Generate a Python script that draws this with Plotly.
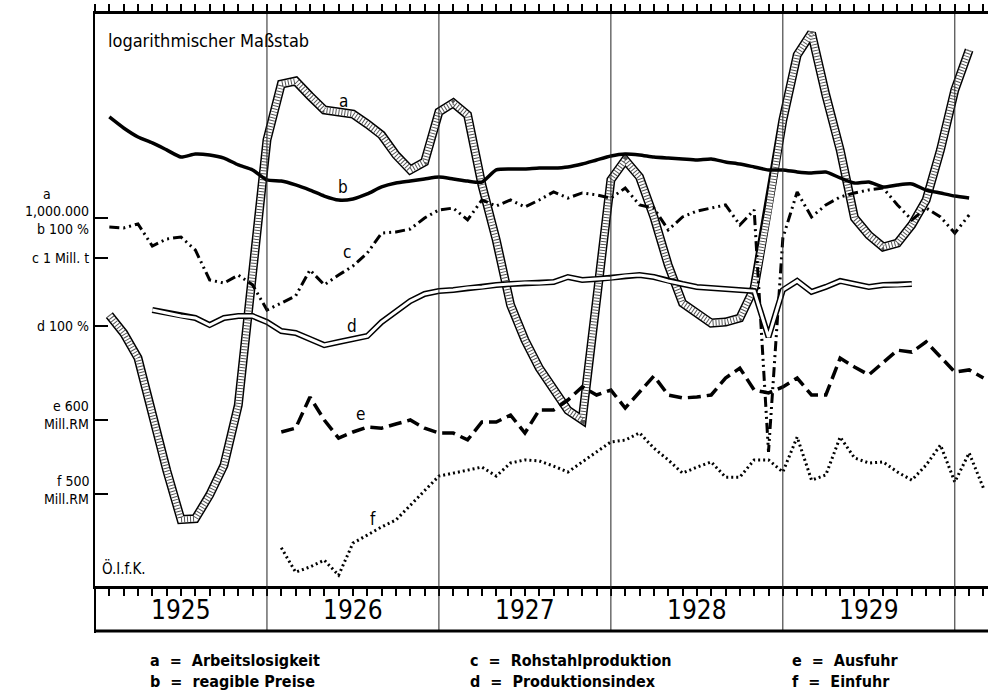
import math
import plotly.graph_objects as go

# ---------------- data (monthly, month 1 = Jan 1925) ----------------
YEARS = ["1925", "1926", "1927", "1928", "1929"]

A_START = 1   # a = Arbeitslosigkeit (thousand persons)
A_VALUES = [615, 562, 496, 373, 283, 221, 222, 250, 290, 392,
            771, 1478, 1956, 1985, 1842, 1717, 1700, 1683, 1601, 1515,
            1371, 1272, 1324, 1700, 1778, 1675, 1180, 896, 647, 543,
            472, 423, 382, 364, 663, 1210, 1337, 1228, 1005, 790,
            653, 622, 591, 594, 606, 704, 1041, 1633, 2261, 2525,
            1851, 1406, 1000, 918, 865, 882, 966, 1094, 1406, 1898, 2319]

B_START = 1   # b = reagible Preise (%)
B_VALUES = [165.8, 156.9, 150.0, 145.6, 140.6, 135.7, 137.8, 137.1, 135.0, 130.4,
            127.2, 121.0, 120.3, 118.0, 115.0, 111.6, 109.4, 110.0, 112.8, 116.8,
            119.1, 120.3, 121.6, 122.8, 121.6, 120.3, 119.7, 127.2, 127.8, 127.8,
            128.4, 128.4, 129.1, 131.0, 133.7, 136.4, 137.8, 137.1, 135.7, 135.0,
            134.4, 133.7, 134.4, 132.4, 131.0, 129.1, 127.2, 127.2, 125.9, 125.3,
            125.9, 122.2, 119.1, 119.7, 116.8, 118.0, 118.6, 115.0, 113.3, 111.6, 110.5]

C_START = 1   # c = Rohstahlproduktion (thousand t)
C_VALUES = [1168, 1162, 1186, 1062, 1100, 1111, 1041, 896, 882, 918,
            874, 771, 798, 827, 942, 874, 918, 961, 1025, 1133,
            1139, 1156, 1222, 1272, 1284, 1210, 1337, 1297, 1337, 1291,
            1337, 1392, 1350, 1385, 1371, 1350, 1419, 1304, 1284, 1151,
            1228, 1265, 1284, 1304, 1180, 1272, 379, 1105, 1392, 1228,
            1304, 1357, 1385, 1406, 1419, 1304, 1210, 1284, 1228, 1133, 1240]

D_START = 4   # d = Produktionsindex (%)
D_VALUES = [108.3, 106.7, 105.1, 104.1, 100.5, 104.1, 105.1, 105.1, 102.0, 97.5,
            96.6, 93.7, 90.9, 92.3, 93.7, 95.1, 102.0, 107.3, 113.3, 117.4,
            119.1, 119.7, 121.0, 121.6, 122.8, 123.4, 124.0, 124.0, 124.6, 127.8,
            125.9, 126.5, 127.2, 128.4, 129.1, 127.8, 125.3, 123.4, 121.6, 121.0,
            120.3, 119.7, 119.1, 94.6, 119.7, 125.3, 118.6, 121.6, 125.3, 123.4,
            121.6, 122.8, 122.8, 123.4]

E_START = 13  # e = Ausfuhr (Mill. RM)
E_VALUES = [565, 576, 673, 600, 548, 565, 579, 576, 588, 600,
            576, 562, 562, 543, 594, 594, 615, 562, 631, 631,
            663, 708, 680, 697, 637, 690, 748, 680, 670, 673,
            680, 740, 778, 697, 687, 708, 740, 680, 680, 818,
            782, 752, 798, 851, 843, 887, 823, 763, 771, 740]

F_START = 13  # f = Einfuhr (Mill. RM)
F_VALUES = [382, 338, 347, 359, 333, 391, 407, 424, 439, 473,
            508, 547, 555, 564, 572, 547, 584, 593, 590, 575,
            558, 587, 617, 649, 655, 679, 629, 593, 555, 572,
            587, 544, 544, 593, 593, 558, 665, 536, 550, 665,
            599, 584, 587, 558, 536, 578, 639, 531, 614, 515]

# reference ticks of each series' own logarithmic scale
REF_A, REF_B, REF_C, REF_D, REF_E, REF_F = 1000, 100, 1000, 100, 600, 500

LEGEND_ROWS = [
    ["a  =  Arbeitslosigkeit", "c  =  Rohstahlproduktion", "e  =  Ausfuhr"],
    ["b  =  reagible Preise", "d  =  Produktionsindex", "f  =  Einfuhr"],
]

# ---------------- layout geometry ----------------
W, H = 988, 695
L, T, BOT = 95, 14, 586          # plot area: x from L to W, y from T to BOT (pixels)
PW, PH = W - L, BOT - T
MONTH_PX = 14.33
PX_PER_DECADE = 460.0
REF_PIX = {"a": 218, "b": 218, "c": 258, "d": 326, "e": 420, "f": 494}

FONT = "Liberation Sans Narrow, DejaVu Sans Condensed, Liberation Sans, sans-serif"


def log_range(ref, ypix):
    hi = math.log10(ref) + (ypix - T) / PX_PER_DECADE
    lo = math.log10(ref) - (BOT - ypix) / PX_PER_DECADE
    return [lo, hi]


def px(xp):
    return (xp - L) / PW


def py(yp):
    return (BOT - yp) / PH


def months(start, vals):
    return list(range(start, start + len(vals)))


fig = go.Figure()

x_max = PW / MONTH_PX

# a: hatched band
xa = months(A_START, A_VALUES)
fig.add_trace(go.Scatter(x=xa, y=A_VALUES, yaxis="y", mode="lines",
                         line=dict(color="black", width=9), hoverinfo="skip"))
fig.add_trace(go.Scatter(x=xa, y=A_VALUES, yaxis="y", mode="lines",
                         line=dict(color="white", width=6), hoverinfo="skip"))
fig.add_trace(go.Scatter(x=xa, y=A_VALUES, yaxis="y", mode="lines",
                         line=dict(color="#555555", width=6, dash="1px,2px"), hoverinfo="skip"))

# b: heavy solid
fig.add_trace(go.Scatter(x=months(B_START, B_VALUES), y=B_VALUES, yaxis="y2", mode="lines",
                         line=dict(color="black", width=3.5, shape="spline", smoothing=0.6),
                         hoverinfo="skip"))

# c: dash-dot-dot
fig.add_trace(go.Scatter(x=months(C_START, C_VALUES), y=C_VALUES, yaxis="y3", mode="lines",
                         line=dict(color="black", width=3, dash="10px,4px,2px,4px,2px,4px"),
                         hoverinfo="skip"))

# d: double line
xd = months(D_START, D_VALUES)
fig.add_trace(go.Scatter(x=xd, y=D_VALUES, yaxis="y4", mode="lines",
                         line=dict(color="black", width=6), hoverinfo="skip"))
fig.add_trace(go.Scatter(x=xd, y=D_VALUES, yaxis="y4", mode="lines",
                         line=dict(color="white", width=3), hoverinfo="skip"))

# e: long dashes
fig.add_trace(go.Scatter(x=months(E_START, E_VALUES), y=E_VALUES, yaxis="y5", mode="lines",
                         line=dict(color="black", width=3.5, dash="13px,6px"), hoverinfo="skip"))

# f: dotted
fig.add_trace(go.Scatter(x=months(F_START, F_VALUES), y=F_VALUES, yaxis="y6", mode="lines",
                         line=dict(color="black", width=3, dash="2px,3px"), hoverinfo="skip"))

shapes = []
# year boundary lines (through the year box)
for i in range(1, len(YEARS) + 1):
    shapes.append(dict(type="line", xref="x", yref="paper", x0=12 * i, x1=12 * i,
                       y0=py(631), y1=1, line=dict(color="#222222", width=1)))
# year box bottom line and left frame extension
shapes.append(dict(type="line", xref="paper", yref="paper", x0=0, x1=1, y0=py(631), y1=py(631),
                   line=dict(color="black", width=3)))
shapes.append(dict(type="line", xref="paper", yref="paper", x0=0, x1=0, y0=py(633), y1=0,
                   line=dict(color="black", width=2)))
# reference ticks on the left frame
for ax, ref in [("y", REF_A), ("y3", REF_C), ("y4", REF_D), ("y5", REF_E), ("y6", REF_F)]:
    shapes.append(dict(type="line", xref="paper", yref=ax, x0=0, x1=px(108), y0=ref, y1=ref,
                       line=dict(color="black", width=2)))

ann = []


def text(x, y, s, size=14, xanchor="right", yanchor="middle", xref="paper"):
    ann.append(dict(x=x, y=y, xref=xref, yref="paper", text=s, showarrow=False,
                    xanchor=xanchor, yanchor=yanchor,
                    font=dict(family=FONT, size=size, color="black")))


# left scale labels
text(px(47), py(194), "a", size=14, xanchor="center")
text(px(91), py(211), "1,000.000", size=14)
text(px(91), py(229), "b 100 %", size=14)
text(px(91), py(258), "c 1 Mill. t", size=14)
text(px(91), py(326), "d 100 %", size=14)
text(px(91), py(406), "e 600", size=14)
text(px(91), py(424), "Mill.RM", size=14)
text(px(91), py(481), "f 500", size=14)
text(px(91), py(499), "Mill.RM", size=14)

# inner notes
text(px(106), py(41), "logarithmischer Maßstab", size=18, xanchor="left")
text(px(100), py(568), "Ö.I.f.K.", size=15, xanchor="left")

# series letters
for s, (xx, yy) in zip("abcdef", [(343, 101), (343, 187), (347, 252), (352, 326), (360, 414), (373, 519)]):
    text(px(xx), py(yy), s, size=17, xanchor="center")

# year labels
for i, yr in enumerate(YEARS):
    text(6 + 12 * i, py(610), yr, size=26, xanchor="center", xref="x")

# legend
for r, row in enumerate(LEGEND_ROWS):
    for c, s in enumerate(row):
        text(px([148, 468, 790][c]), py([660, 681][r]), "<b>" + s + "</b>", size=16, xanchor="left")

fig.update_layout(
    width=W, height=H,
    margin=dict(l=L, r=0, t=T, b=H - BOT, pad=0),
    paper_bgcolor="white", plot_bgcolor="white",
    showlegend=False,
    xaxis=dict(range=[0, x_max], showgrid=False, zeroline=False, showline=True,
               linecolor="black", linewidth=3, mirror="allticks",
               tickmode="linear", tick0=0, dtick=1, ticks="outside", ticklen=7,
               tickwidth=2, tickcolor="black", showticklabels=False),
    yaxis=dict(type="log", range=log_range(REF_A, REF_PIX["a"]), showgrid=False,
               zeroline=False, showline=True, linecolor="black", linewidth=2,
               ticks="", showticklabels=False),
    yaxis2=dict(type="log", overlaying="y", range=log_range(REF_B, REF_PIX["b"]), visible=False),
    yaxis3=dict(type="log", overlaying="y", range=log_range(REF_C, REF_PIX["c"]), visible=False),
    yaxis4=dict(type="log", overlaying="y", range=log_range(REF_D, REF_PIX["d"]), visible=False),
    yaxis5=dict(type="log", overlaying="y", range=log_range(REF_E, REF_PIX["e"]), visible=False),
    yaxis6=dict(type="log", overlaying="y", range=log_range(REF_F, REF_PIX["f"]), visible=False),
    shapes=shapes,
    annotations=ann,
)

fig.write_html("out.html", config={"displayModeBar": False},
               post_script="document.body.style.margin='0';document.body.style.overflow='hidden';")
